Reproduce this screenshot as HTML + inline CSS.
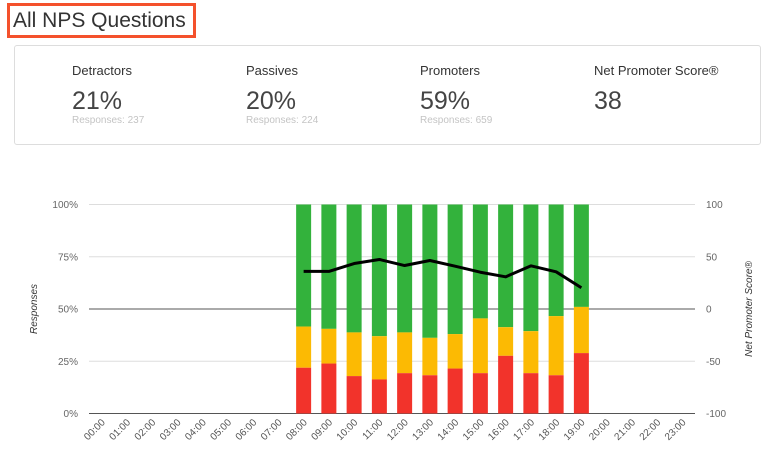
<!DOCTYPE html>
<html><head><meta charset="utf-8"><style>
body{margin:0;width:774px;height:457px;background:#fff;font-family:"Liberation Sans",Arial,sans-serif;overflow:hidden;position:relative}
.title{position:absolute;left:7px;top:3px;width:180px;height:29px;border:3px solid #f4512c;font-size:21px;color:#333;line-height:29px;padding-left:3px;box-sizing:content-box}
.card{position:absolute;left:14px;top:45px;width:745px;height:98px;border:1px solid #ddd;border-radius:3px}
.stat{position:absolute;top:0}
.lab{position:absolute;top:17px;font-size:13px;color:#333;white-space:nowrap}
.val{position:absolute;top:41px;font-size:25px;color:#444;font-weight:300;white-space:nowrap}
.resp{position:absolute;top:69px;font-size:10px;color:#c4c4c4;white-space:nowrap}
svg text{font-family:"Liberation Sans",Arial,sans-serif}
</style></head><body>
<div class="title">All NPS Questions</div>
<div class="card">
 <div class="stat" style="left:57px"><div class="lab">Detractors</div><div class="val">21%</div><div class="resp">Responses: 237</div></div>
 <div class="stat" style="left:231px"><div class="lab">Passives</div><div class="val">20%</div><div class="resp">Responses: 224</div></div>
 <div class="stat" style="left:405px"><div class="lab">Promoters</div><div class="val">59%</div><div class="resp">Responses: 659</div></div>
 <div class="stat" style="left:579px"><div class="lab">Net Promoter Score®</div><div class="val">38</div></div>
</div>
<svg id="chart" width="774" height="457" style="position:absolute;left:0;top:0"></svg>
<script>
const hours=["00:00","01:00","02:00","03:00","04:00","05:00","06:00","07:00","08:00","09:00","10:00","11:00","12:00","13:00","14:00","15:00","16:00","17:00","18:00","19:00","20:00","21:00","22:00","23:00"];
const detractors=[null,null,null,null,null,null,null,null,21.9,23.9,17.9,16.3,19.3,18.3,21.5,19.3,27.6,19.3,18.3,28.9,null,null,null,null];
const passives=[null,null,null,null,null,null,null,null,19.7,16.6,20.9,20.7,19.5,17.9,16.5,26.2,13.7,20.1,28.3,22.1,null,null,null,null];
const npsScores=[null,null,null,null,null,null,null,null,36,36,43.5,47.4,41.6,46.4,41,35.2,30.8,41.3,35.6,20.3,null,null,null,null];
const leftTicks=[0,25,50,75,100];
const rightTicks=[-100,-50,0,50,100];
const svg=document.getElementById('chart');
const NS='http://www.w3.org/2000/svg';
const L=89,R=695,T=204.5,B=413.5;
const band=(R-L)/hours.length;
const yL=v=>B-(v/100)*(B-T);
const yR=v=>B-((v+100)/200)*(B-T);
const xC=i=>L+(i+0.5)*band;
function mk(tag,attrs){const e=document.createElementNS(NS,tag);for(const k in attrs)e.setAttribute(k,attrs[k]);svg.appendChild(e);return e;}
leftTicks.forEach(t=>{
 const dark=(t===0||t===50);
 const l=mk('line',{x1:L,x2:R,y1:yL(t),y2:yL(t),stroke:dark?'#555':'#ddd','stroke-width':1});
 
 
 const tx=mk('text',{x:78,y:yL(t)+3.5,'text-anchor':'end','font-size':10,fill:'#666'});
 tx.textContent=t+'%';
 
 
});
rightTicks.forEach(t=>{
 const tx=mk('text',{x:706,y:yR(t)+3.5,'font-size':10,fill:'#666'});
 tx.textContent=t;
 
 
});
const bw=15;
hours.forEach((h,i)=>{
 const tx=mk('text',{x:xC(i)+4,y:423,'text-anchor':'end','font-size':10,fill:'#555',transform:`rotate(-45 ${xC(i)+4} 423)`});
 tx.textContent=h;
 
 
 if(detractors[i]==null)return;
 const x=xC(i)-bw/2;
 const d=detractors[i],p=passives[i];
 const g=mk('rect',{x:x,y:yL(100),width:bw,height:yL(d+p)-yL(100),fill:'#33b23c'});
 
 
 const yb=mk('rect',{x:x,y:yL(d+p),width:bw,height:yL(d)-yL(d+p),fill:'#fcba03'});
 
 
 const rb=mk('rect',{x:x,y:yL(d),width:bw,height:yL(0)-yL(d),fill:'#f2332b'});
 
 
});
let pts=[];
npsScores.forEach((v,i)=>{if(v!=null)pts.push(xC(i)+','+yR(v));});
const line=mk('polyline',{points:pts.join(' '),fill:'none',stroke:'#000','stroke-width':3,'stroke-linejoin':'round'});


const yt=mk('text',{x:37,y:309,'text-anchor':'middle','font-size':10,'font-style':'italic',fill:'#333',transform:'rotate(-90 37 309)'});
yt.textContent='Responses';


const rt=mk('text',{x:752,y:309,'text-anchor':'middle','font-size':10,'font-style':'italic',fill:'#333',transform:'rotate(-90 752 309)'});
rt.textContent='Net Promoter Score®';


</script>
</body></html>
